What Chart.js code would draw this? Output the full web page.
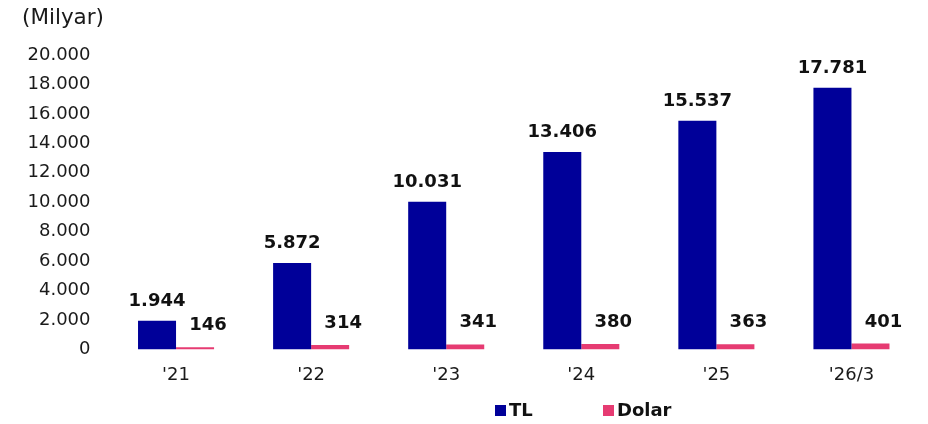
<!DOCTYPE html>
<html>
<head>
<meta charset="utf-8">
<script src="https://cdn.jsdelivr.net/npm/chart.js@4/dist/chart.umd.min.js"></script>
<style>
html,body{margin:0;padding:0;background:#fff;}
#wrap{position:relative;width:928px;height:424px;}
</style>
</head>
<body>
<div id="wrap"><canvas id="c" width="928" height="424"></canvas></div>
<script>
const categories = ["'21", "'22", "'23", "'24", "'25", "'26/3"];
const tlValues = [1944, 5872, 10031, 13406, 15537, 17781];
const dolarValues = [146, 314, 341, 380, 363, 401];
const seriesNames = ["TL", "Dolar"];
const unitLabel = "(Milyar)";
const yTicks = [0, 2000, 4000, 6000, 8000, 10000, 12000, 14000, 16000, 18000, 20000];

const FONT = "'DejaVu Sans', Verdana, sans-serif";
const COLORS = ["#000099", "#E63B72"];

function fmt(v){
  return String(Math.round(v)).replace(/\B(?=(\d{3})+(?!\d))/g, ".");
}

const labelPlugin = {
  id: 'labels',
  afterDatasetsDraw(chart){
    const ctx = chart.ctx;
    ctx.save();
    ctx.font = "bold 18px " + FONT;
    ctx.fillStyle = "#111";
    ctx.textAlign = "center";
    ctx.textBaseline = "alphabetic";
    chart.data.datasets.forEach((ds, di) => {
      const meta = chart.getDatasetMeta(di);
      meta.data.forEach((bar, i) => {
        const v = ds.data[i];
        if (di === 0) {
          ctx.fillText(fmt(v), bar.x, bar.y - 15);
        } else {
          ctx.fillText(fmt(v), bar.x + 13, bar.y - 17);
        }
      });
    });
    // unit label
    ctx.font = "21.5px " + FONT;
    ctx.textAlign = "left";
    ctx.textBaseline = "middle";
    ctx.fillStyle = "#1a1a1a";
    ctx.fillText(unitLabel, 22, 18);
    // legend
    ctx.font = "bold 18px " + FONT;
    ctx.textBaseline = "middle";
    const legendY = 411;
    const starts = [495, 603];
    chart.data.datasets.forEach((ds, di) => {
      const x = starts[di];
      ctx.fillStyle = ds.backgroundColor;
      ctx.fillRect(x, legendY - 6, 11, 11);
      ctx.fillStyle = "#111";
      ctx.fillText(ds.label, x + 14, legendY);
    });
    ctx.restore();
  }
};

new Chart(document.getElementById('c'), {
  type: 'bar',
  data: {
    labels: categories,
    datasets: [
      { label: seriesNames[0], data: tlValues, backgroundColor: COLORS[0] },
      { label: seriesNames[1], data: dolarValues, backgroundColor: COLORS[1] }
    ]
  },
  options: {
    responsive: false,
    animation: false,
    devicePixelRatio: 1,
    layout: { padding: { top: 55, right: 9, bottom: 0, left: 0 } },
    datasets: { bar: { categoryPercentage: 0.563, barPercentage: 1.0 } },
    plugins: { legend: { display: false }, tooltip: { enabled: false } },
    scales: {
      x: {
        grid: { display: false, drawTicks: false },
        border: { display: false },
        ticks: { color: "#1a1a1a", font: { family: FONT, size: 18 }, padding: 15, maxRotation: 0 },
        afterFit(s){ s.height = 74.5; }
      },
      y: {
        min: 0, max: 20000,
        afterBuildTicks(s){ s.ticks = yTicks.map(v => ({ value: v })); },
        grid: { display: false, drawTicks: false },
        border: { display: false },
        ticks: { color: "#1a1a1a", font: { family: FONT, size: 18 }, padding: 18, callback: v => fmt(v) },
        afterFit(s){ s.width = 108.5; }
      }
    }
  },
  plugins: [labelPlugin]
});
</script>
</body>
</html>
